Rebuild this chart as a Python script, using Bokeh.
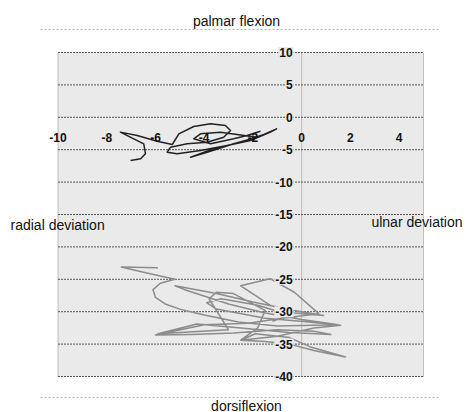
from bokeh.plotting import figure
from bokeh.models import Range1d
from bokeh.core.properties import value
from bokeh.embed import file_html
from bokeh.resources import INLINE

# ---------------- data ----------------
x_ticks = [-10, -8, -6, -4, -2, 0, 2, 4]
x_tick_labels = ["-10", "-8", "-6", "-4", "-2", "0", "2", "4"]
y_ticks = [10, 5, 0, -5, -10, -15, -20, -25, -30, -35, -40]
y_tick_labels = ["10", "5", "0", "-5", "-10", "-15", "-20", "-25", "-30", "-35", "-40"]

# trajectory 1 (dark, near neutral)
top_x = [-7.02, -6.61, -6.41, -6.48, -6.89, -7.44, -6.75, -5.93, -5.31, -5.04,
         -4.43, -3.74, -3.13, -2.92, -3.20, -3.88, -4.70, -5.38, -5.52, -5.11,
         -4.15, -3.06, -2.10, -1.28, -1.03, -1.55, -2.51, -3.61, -4.56, -3.88,
         -2.79, -1.83, -3.33, -4.15, -4.43, -3.74, -2.79, -2.24, -1.69]
top_y = [-6.67, -6.41, -5.64, -4.09, -3.32, -2.29, -2.81, -3.69, -4.20, -2.55,
         -1.42, -1.00, -1.27, -2.04, -3.07, -3.84, -4.09, -4.61, -5.38, -5.64,
         -5.12, -4.35, -3.58, -2.29, -1.78, -2.65, -3.84, -4.86, -6.16, -5.38,
         -4.09, -3.07, -2.29, -2.55, -3.32, -4.09, -3.32, -2.81, -2.14]

# trajectory 2 (grey, dorsiflexed)
bot_x = [-5.9, -7.4, -6.4, -5.2, -5.8, -6.1, -6.0, -5.6, -5.0, -4.0,
         -2.6, -1.0, 1.5, 0.0, -1.5, -3.0, -4.8, -5.2, -3.5, -2.0,
         -0.3, 0.9, -0.3, -1.3, -2.5, -1.3, -0.3, 0.7, -0.8, -2.2,
         -4.0, -6.0, -4.5, -2.8, -1.0, 0.5, 1.2, -0.5, -2.5, -4.3,
         -5.9, -3.0, -3.8, -3.5, -2.8, -1.5, -1.8, -2.5, -1.9, -0.5,
         0.4, 1.8, 0.5, -0.5, -1.5, -2.5, -1.0, 0.5, 1.6, 0.3,
         -1.5, -3.5, -3.9, -3.3, -1.8, -0.5, -1.2]
bot_y = [-23.2, -23.1, -24.0, -25.0, -25.6, -26.6, -27.8, -28.8, -29.6, -30.5,
         -31.6, -32.2, -32.0, -31.2, -30.2, -28.8, -26.6, -26.0, -27.2, -28.5,
         -29.8, -30.6, -30.2, -29.0, -26.0, -24.9, -27.0, -30.3, -31.0, -31.8,
         -32.0, -33.6, -33.5, -33.3, -32.8, -33.0, -33.5, -33.2, -32.5, -31.9,
         -33.4, -32.8, -28.0, -27.0, -27.2, -29.8, -32.5, -34.4, -33.4, -34.0,
         -35.5, -37.0, -36.0, -35.0, -34.6, -34.4, -33.8, -32.5, -32.1, -31.6,
         -31.0, -29.6, -28.6, -28.0, -29.0, -30.5, -31.5]

X_MIN, X_MAX = -10, 5
Y_MIN, Y_MAX = -40, 10

# ---------------- layout (window pixels) ----------------
W, H = 469, 412
PL, PR, PT, PB = 57.5, 423.0, 52.0, 376.0
sx = (PR - PL) / (X_MAX - X_MIN)
sy = (PB - PT) / (Y_MAX - Y_MIN)


def wx(px):
    return X_MIN + (px - PL) / sx


def wy(py):
    return Y_MAX - (py - PT) / sy


BG = "#eaeaea"
p = figure(width=W, height=H,
           x_range=Range1d(wx(0), wx(W)), y_range=Range1d(wy(H), wy(0)),
           x_axis_type=None, y_axis_type=None, toolbar_location=None,
           output_backend="svg", min_border=0, outline_line_color=None,
           background_fill_color="white", border_fill_color="white")

# plot area
p.quad(left=X_MIN, right=X_MAX, bottom=Y_MIN, top=Y_MAX, fill_color=BG, line_color=None)
p.segment(x0=[X_MIN, 0, X_MAX], x1=[X_MIN, 0, X_MAX], y0=Y_MIN, y1=Y_MAX,
          line_color="#8a8a8a", line_width=1, line_dash="1 1")
p.segment(x0=X_MIN, x1=X_MAX, y0=y_ticks, y1=y_ticks,
          line_color="#555555", line_width=1, line_dash="2 1")

# outer dotted rules
p.segment(x0=wx(40), x1=wx(440), y0=[wy(29), wy(397)], y1=[wy(29), wy(397)],
          line_color="#b5b5b5", line_width=1, line_dash="2 2")

# trajectories
p.line(bot_x, bot_y, line_color="#8c8c8c", line_width=1.5, line_join="round")
p.line(top_x, top_y, line_color="#222222", line_width=1.5, line_join="round")

# tick labels
tick_font = value("Liberation Sans")
p.text(x=[0] * len(y_ticks), y=y_ticks, text=y_tick_labels, x_offset=-8,
       text_align="right", text_baseline="middle", text_font=tick_font,
       text_font_size="12px", text_font_style="bold", text_color="#111111",
       background_fill_color=BG, padding=1)
p.text(x=x_ticks, y=[0] * len(x_ticks), text=x_tick_labels, y_offset=20,
       text_align="center", text_baseline="middle", text_font=tick_font,
       text_font_size="12px", text_font_style="bold", text_color="#111111")

# direction labels
lab_font = value("Liberation Sans")
p.text(x=[wx(236)], y=[wy(20)], text=["palmar flexion"], text_align="center",
       text_baseline="middle", text_font=lab_font, text_font_size="14px", text_color="#111111")
p.text(x=[wx(246)], y=[wy(405)], text=["dorsiflexion"], text_align="center",
       text_baseline="middle", text_font=lab_font, text_font_size="14px", text_color="#111111")
p.text(x=[wx(10)], y=[wy(224)], text=["radial deviation"], text_align="left",
       text_baseline="middle", text_font=lab_font, text_font_size="14px", text_color="#111111")
p.text(x=[wx(462)], y=[wy(221)], text=["ulnar deviation"], text_align="right",
       text_baseline="middle", text_font=lab_font, text_font_size="14px", text_color="#111111")

open("out.html", "w").write(file_html(p, INLINE))
